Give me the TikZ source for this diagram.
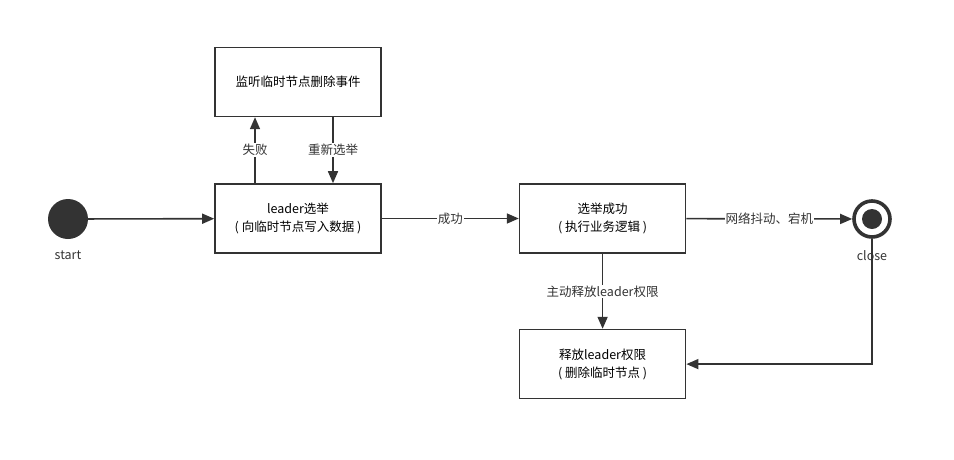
\documentclass[tikz,border=0pt]{standalone}
\usepackage{fontspec}
\newfontfamily\cjk{Noto Sans CJK SC}
\usetikzlibrary{arrows.meta,positioning}
\definecolor{lineGray}{RGB}{51,51,51}

\begin{document}
\begin{tikzpicture}[>={Triangle[length=12pt,width=10pt]},x=1pt,y=1pt,
  font=\cjk\fontsize{12.5}{18}\selectfont,
  state/.style={draw=lineGray,line width=1.6pt,fill=white,align=center,minimum width=166pt,minimum height=69pt},
  flow/.style={draw=lineGray,line width=1.6pt},
  tag/.style={fill=white,inner sep=1pt,text=lineGray},
  startdot/.style={circle,fill=lineGray,minimum size=40pt,inner sep=0pt},
  enddot/.style={circle,draw=lineGray,line width=3.6pt,fill=white,minimum size=36pt,inner sep=0pt}]
\useasboundingbox (0,0) rectangle (954,-459);
\node[state] (elect) at (298,-218.5) {leader选举\\( 向临时节点写入数据 )};
\node[state,above=66pt of elect] (watch) {监听临时节点删除事件};
\node[state,right=137pt of elect] (done) {选举成功\\( 执行业务逻辑 )};
\node[state,below=75pt of done] (release) {释放leader权限\\( 删除临时节点 )};
\node[startdot] (start) at (68,-219) {};
\node[below=8pt of start,text=lineGray] (startlbl) {start};
\node[enddot] (close) at (872,-219) {};
\fill[lineGray] (close) circle (10);
\node[below=8pt of close,text=lineGray] (closelbl) {close};
% connectors
\draw[->,flow] (start) -- (elect);
\draw[->,flow] ([xshift=-43pt]elect.north) -- ([xshift=-43pt]watch.south) node[midway,tag] {失败};
\draw[->,flow] ([xshift=35pt]watch.south) -- ([xshift=35pt]elect.north) node[midway,tag] {重新选举};
\draw[->,flow] (elect) -- (done) node[midway,tag] {成功};
\draw[->,flow] (done) -- (close) node[midway,tag] {网络抖动、宕机};
\draw[->,flow] (done) -- (release) node[midway,tag] {主动释放leader权限};
\draw[->,flow] (close) |- (release);
\end{tikzpicture}
\end{document}
